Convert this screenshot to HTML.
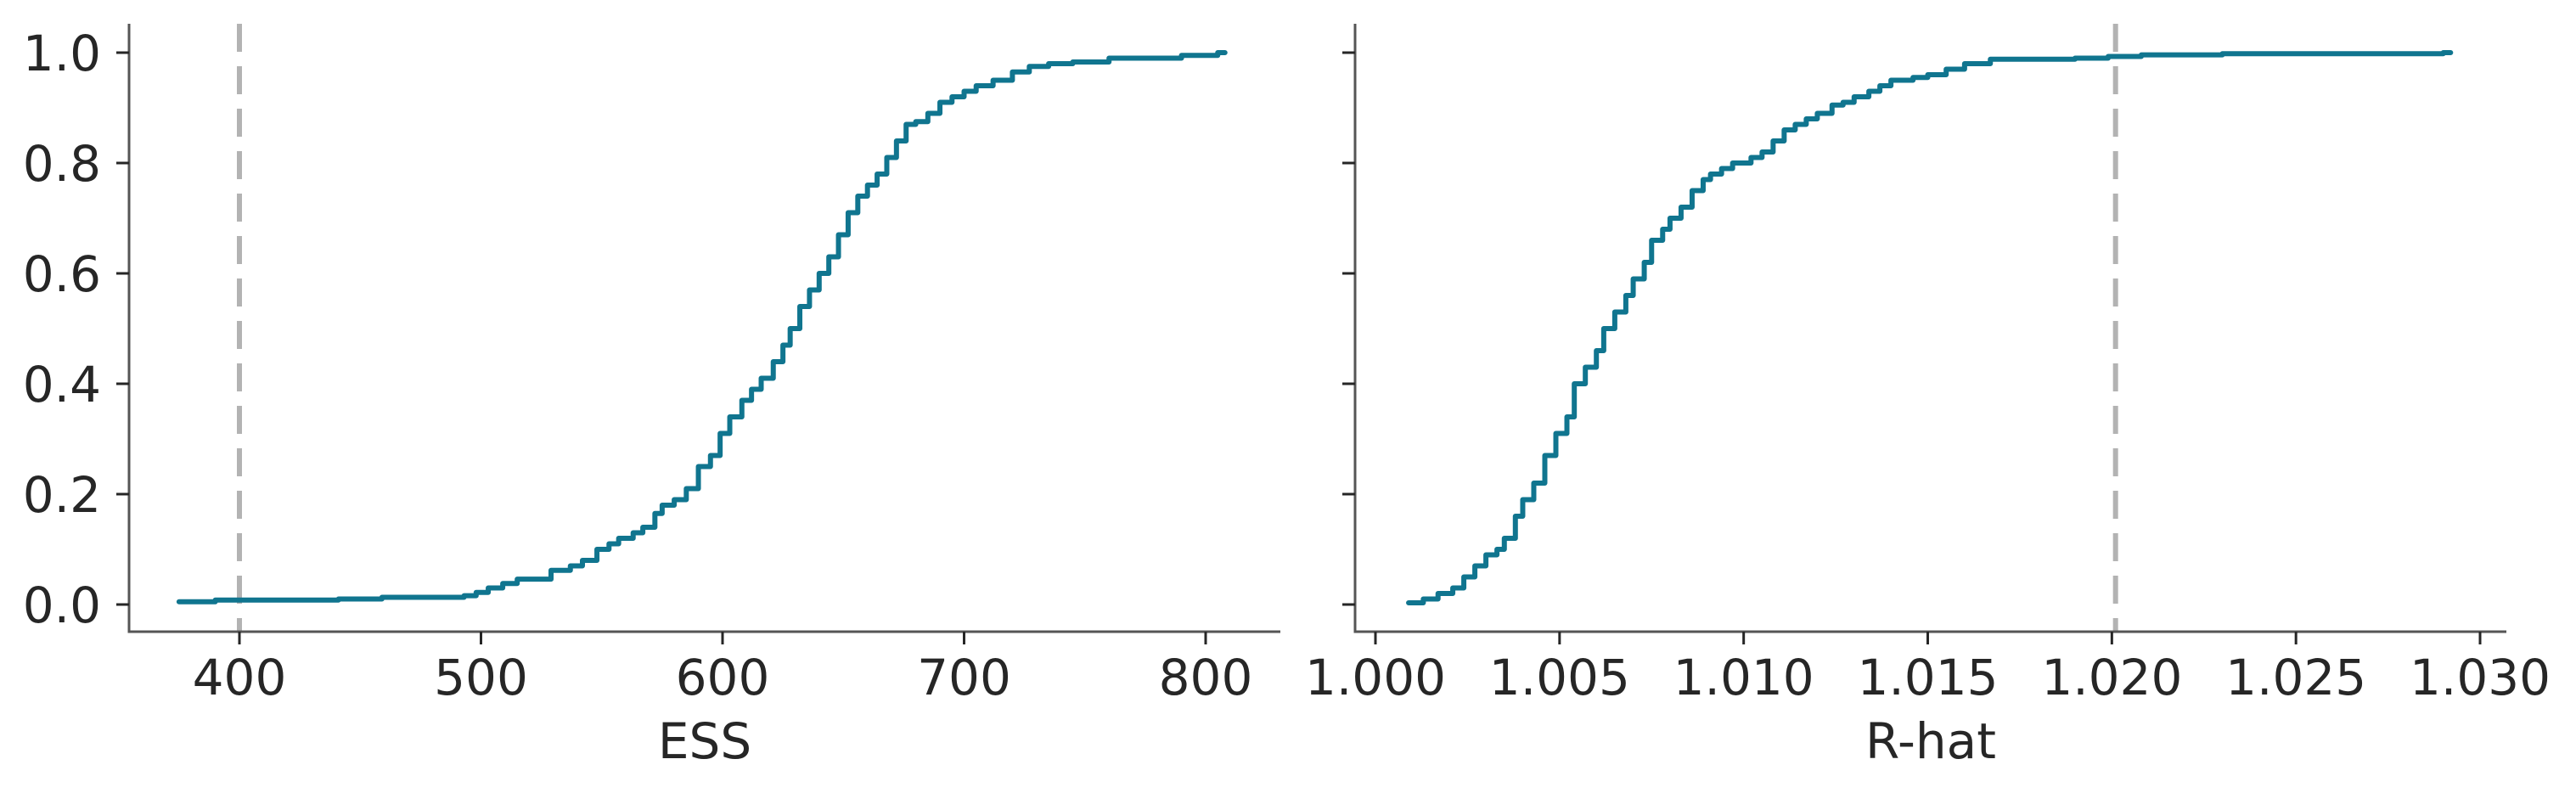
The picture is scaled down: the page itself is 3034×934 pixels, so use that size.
<!DOCTYPE html>
<html><head><meta charset="utf-8"><style>
html,body{margin:0;padding:0;background:#fff;}
svg{display:block;font-family:"DejaVu Sans","Liberation Sans",sans-serif;}
</style></head><body>
<svg id="chart" width="3034" height="934" viewBox="0 0 3034 934" xmlns="http://www.w3.org/2000/svg"></svg>
<script>
const essValues = [375,390,441,459,493,498,503,509,515,529,537,542,548,553,557,563,567,572,575,580,585,590,595,599,603,608,612,616,621,625,628,632,636,640,644,648,652,656,660,664,668,672,676,680,685,690,695,700,705,712,720,727,735,745,760,790,805];
const essCdf = [0.005,0.008,0.01,0.013,0.016,0.022,0.03,0.038,0.046,0.062,0.07,0.08,0.1,0.11,0.12,0.13,0.14,0.165,0.18,0.19,0.21,0.25,0.27,0.31,0.34,0.37,0.39,0.41,0.44,0.47,0.5,0.54,0.57,0.6,0.63,0.67,0.71,0.74,0.76,0.78,0.81,0.84,0.87,0.875,0.89,0.91,0.92,0.93,0.94,0.95,0.965,0.975,0.98,0.983,0.99,0.995,1.0];
const essEnd = 808;
const rhatValues = [1.0009,1.0013,1.0017,1.0021,1.0024,1.0027,1.003,1.0033,1.0035,1.0038,1.004,1.0043,1.0046,1.0049,1.0052,1.0054,1.0057,1.006,1.0062,1.0065,1.0068,1.007,1.0073,1.0075,1.0078,1.008,1.0083,1.0086,1.0089,1.0091,1.0094,1.0097,1.0102,1.0105,1.0108,1.0111,1.0114,1.0117,1.012,1.0124,1.0127,1.013,1.0134,1.0137,1.014,1.0146,1.015,1.0155,1.016,1.0167,1.019,1.0199,1.0208,1.023,1.029];
const rhatCdf = [0.003,0.01,0.02,0.03,0.05,0.07,0.09,0.1,0.12,0.16,0.19,0.22,0.27,0.31,0.34,0.4,0.43,0.46,0.5,0.53,0.56,0.59,0.62,0.66,0.68,0.7,0.72,0.75,0.77,0.78,0.79,0.8,0.81,0.82,0.84,0.86,0.87,0.88,0.89,0.905,0.91,0.92,0.93,0.94,0.95,0.955,0.96,0.97,0.98,0.988,0.99,0.993,0.996,0.998,1.0];
const rhatEnd = 1.0292;
const yTicks = [0,0.2,0.4,0.6,0.8,1.0];
const yTickLabels = ["0.0","0.2","0.4","0.6","0.8","1.0"];
const essTicks = [400,500,600,700,800];
const essTickLabels = ["400","500","600","700","800"];
const rhatTicks = [1.000,1.005,1.010,1.015,1.020,1.025,1.030];
const rhatTickLabels = ["1.000","1.005","1.010","1.015","1.020","1.025","1.030"];
const essThreshold = 400;
const rhatThreshold = 1.0201;

const svg = document.getElementById('chart');
const NS = 'http://www.w3.org/2000/svg';
function mk(tag, attrs, parent){const e=document.createElementNS(NS,tag);for(const k in attrs)e.setAttribute(k,attrs[k]);(parent||svg).appendChild(e);return e;}
const yScale = v => 712 - v*650;
const TOP = 28, BOT = 744;

function panel(cfg){
  const g = mk('g',{});
  
  
  const xs = v => cfg.x0 + (v - cfg.v0) * cfg.k;
  const th = mk('line',{x1:xs(cfg.th),x2:xs(cfg.th),y1:TOP,y2:BOT,stroke:'#b3b3b3','stroke-width':6,'stroke-dasharray':'33,17'},g);
  
  
  let d = '';
  for(let i=0;i<cfg.vals.length;i++){
    const x = xs(cfg.vals[i]), y = yScale(cfg.cdf[i]);
    if(i===0) d += 'M'+x+','+y; else d += 'V'+y;
    const nx = i<cfg.vals.length-1 ? xs(cfg.vals[i+1]) : xs(cfg.end);
    d += 'H'+nx;
  }
  const p = mk('path',{d:d,fill:'none',stroke:'#10758f','stroke-width':6,'stroke-linejoin':'round','stroke-linecap':'round'},g);
  
  
  const ls = mk('line',{x1:cfg.spineX,x2:cfg.spineX,y1:TOP,y2:BOT+1.5,stroke:'#555','stroke-width':3},g);
  
  
  const bs = mk('line',{x1:cfg.spineX-1.5,x2:cfg.spineEnd,y1:BOT,y2:BOT,stroke:'#555','stroke-width':3},g);
  
  
  yTicks.forEach((t,i)=>{
    mk('line',{x1:cfg.spineX-15,x2:cfg.spineX,y1:yScale(t),y2:yScale(t),stroke:'#262626','stroke-width':3},g);
    if(cfg.yLabels){
      const tx = mk('text',{x:cfg.spineX-33,y:yScale(t)+21,'text-anchor':'end','font-size':58,fill:'#262626'},g);
      tx.textContent = yTickLabels[i];
      
      
    }
  });
  cfg.ticks.forEach((t,i)=>{
    mk('line',{x1:xs(t),x2:xs(t),y1:BOT,y2:BOT+15,stroke:'#262626','stroke-width':3},g);
    const tx = mk('text',{x:xs(t),y:818,'text-anchor':'middle','font-size':58,fill:'#262626'},g);
    tx.textContent = cfg.tickLabels[i];
    
    
  });
  const lab = mk('text',{x:cfg.labelX,y:893,'text-anchor':'middle','font-size':58,fill:'#262626'},g);
  lab.textContent = cfg.label;
  
  
}
panel({name:'ess-panel',x0:282,v0:400,k:2.845,vals:essValues,cdf:essCdf,end:essEnd,th:essThreshold,spineX:152,spineEnd:1508,ticks:essTicks,tickLabels:essTickLabels,yLabels:true,label:'ESS',labelX:830});
panel({name:'rhat-panel',x0:1620,v0:1.0,k:43367,vals:rhatValues,cdf:rhatCdf,end:rhatEnd,th:rhatThreshold,spineX:1596,spineEnd:2952,ticks:rhatTicks,tickLabels:rhatTickLabels,yLabels:false,label:'R-hat',labelX:2274});
</script>
</body></html>
